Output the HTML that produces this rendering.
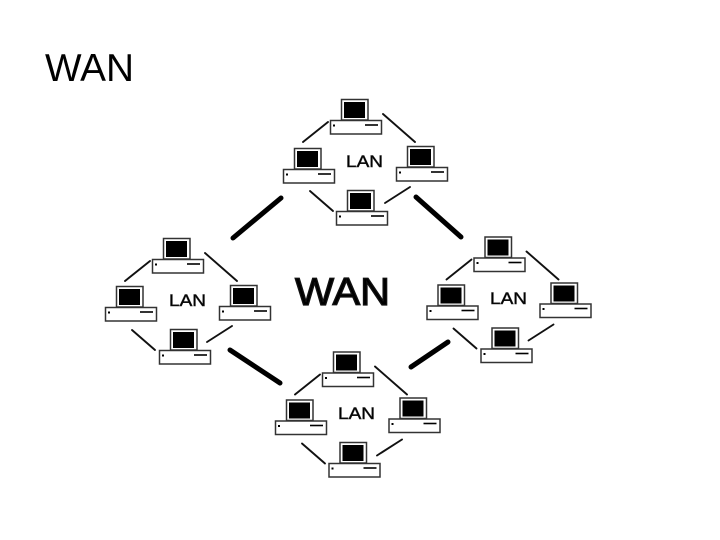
<!DOCTYPE html>
<html>
<head>
<meta charset="utf-8">
<style>
html,body{margin:0;padding:0;background:#fff;width:720px;height:540px;overflow:hidden}
svg{display:block}
text{font-family:"Liberation Sans",sans-serif;fill:#000}
</style>
</head>
<body>
<svg width="720" height="540" viewBox="0 0 720 540" xmlns="http://www.w3.org/2000/svg">
<defs>
<g id="pc">
<rect x="11.5" y="-20.5" width="26.5" height="20.5" fill="#fff" stroke="#333" stroke-width="1.5"/>
<rect x="14" y="-18" width="21" height="16" fill="#000"/>
<rect x="0.5" y="0.5" width="51" height="13.5" fill="#fff" stroke="#333" stroke-width="1.5"/>
<rect x="3" y="4.5" width="2" height="2" fill="#000"/>
<line x1="35" y1="5" x2="48" y2="5" stroke="#000" stroke-width="1.6"/>
</g>
<g id="lines" stroke="#111" stroke-width="1.9" stroke-linecap="round" fill="none">
<line x1="-27" y1="22" x2="-2" y2="2"/>
<line x1="53" y1="-6" x2="85" y2="22"/>
<line x1="-20" y1="71" x2="3" y2="91"/>
<line x1="55" y1="83" x2="80" y2="67"/>
</g>
</defs>
<text x="45" y="81" font-size="39" textLength="89" lengthAdjust="spacingAndGlyphs">WAN</text>
<g stroke="#000" stroke-width="5" stroke-linecap="round">
<line x1="233" y1="238" x2="281" y2="198"/>
<line x1="416" y1="197" x2="461" y2="237"/>
<line x1="230" y1="350" x2="280" y2="383"/>
<line x1="411" y1="367" x2="448" y2="342"/>
</g>
<text x="295" y="305" font-size="39" stroke="#111" stroke-width="1.3" textLength="95" lengthAdjust="spacingAndGlyphs">WAN</text>

<use href="#lines" x="330" y="120"/>
<use href="#pc" x="330" y="120"/>
<use href="#pc" x="283" y="169"/>
<use href="#pc" x="396" y="167"/>
<use href="#pc" x="336" y="211"/>
<text x="346" y="167" font-size="16.5" stroke="#222" stroke-width="0.5" textLength="37" lengthAdjust="spacingAndGlyphs">LAN</text>

<use href="#lines" x="152" y="259"/>
<use href="#pc" x="152" y="259"/>
<use href="#pc" x="105" y="307"/>
<use href="#pc" x="219" y="306"/>
<use href="#pc" x="159" y="350"/>
<text x="169" y="306" font-size="16.5" stroke="#222" stroke-width="0.5" textLength="37" lengthAdjust="spacingAndGlyphs">LAN</text>

<use href="#lines" x="473.5" y="257.5"/>
<use href="#pc" x="473.5" y="257.5"/>
<use href="#pc" x="426.5" y="305.5"/>
<use href="#pc" x="539.5" y="303.5"/>
<use href="#pc" x="480.5" y="348.5"/>
<text x="490" y="304" font-size="16.5" stroke="#222" stroke-width="0.5" textLength="37" lengthAdjust="spacingAndGlyphs">LAN</text>

<use href="#lines" x="322" y="372.5"/>
<use href="#pc" x="322" y="372.5"/>
<use href="#pc" x="275" y="420.5"/>
<use href="#pc" x="388.5" y="418.5"/>
<use href="#pc" x="328.5" y="463"/>
<text x="338" y="419" font-size="16.5" stroke="#222" stroke-width="0.5" textLength="37" lengthAdjust="spacingAndGlyphs">LAN</text>
</svg>
</body>
</html>
